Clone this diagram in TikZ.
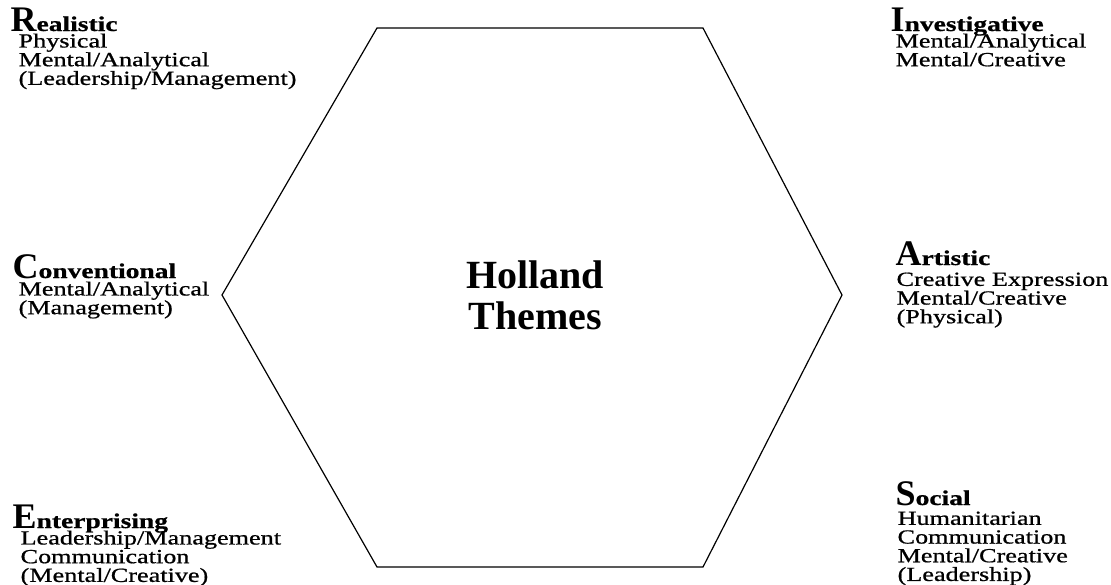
\documentclass[tikz,border=0pt]{standalone}
\usepackage{fontspec}
\setmainfont[FakeStretch=1.31, FakeBold=0.8]{Liberation Serif}
\newfontfamily\plainserif{Liberation Serif}
\usetikzlibrary{positioning}

\newcommand{\themeinit}[1]{{\plainserif\fontsize{36}{36}\selectfont\bfseries #1}}

\begin{document}
\begin{tikzpicture}[x=1pt, y=-1pt, line width=1.2pt,
    theme/.style={anchor=base west, inner sep=0pt, font=\fontsize{21}{21}\selectfont\bfseries},
    traits/.style={anchor=north west, align=left, inner sep=0pt, font=\fontsize{20}{18.7}\selectfont},
    title/.style={align=center, inner sep=0pt, font=\plainserif\fontsize{40}{41}\selectfont\bfseries}]

\useasboundingbox (0,0) rectangle (1111,584);

% hexagon
\coordinate (hexnw) at (377,28);
\coordinate (hexne) at (703,28);
\coordinate (hexe) at (842,295);
\coordinate (hexse) at (703,567);
\coordinate (hexsw) at (377,567);
\coordinate (hexw) at (222,295);
\draw (hexnw) -- (hexne) -- (hexe) -- (hexse) -- (hexsw) -- (hexw) -- cycle;

\node[title] (holland) at (535,295) {Holland\\Themes};

% left column
\node[theme] (realistic) at (10,31) {\themeinit{R}ealistic};
\node[traits, below right=2pt and 8pt of realistic.base west] (realistictraits) {Physical\\Mental/Analytical\\(Leadership/Management)};

\node[theme] (conventional) at (12,278) {\themeinit{C}onventional};
\node[traits, below right=3pt and 6pt of conventional.base west] (conventionaltraits) {Mental/Analytical\\(Management)};

\node[theme] (enterprising) at (12,528) {\themeinit{E}nterprising};
\node[traits, below right=2pt and 8pt of enterprising.base west] (enterprisingtraits) {Leadership/Management\\Communication\\(Mental/Creative)};

% right column
\node[theme] (investigative) at (890,31) {\themeinit{I}nvestigative};
\node[traits, below right=2pt and 5pt of investigative.base west] (investigativetraits) {Mental/Analytical\\Mental/Creative};

\node[theme] (artistic) at (895,265) {\themeinit{A}rtistic};
\node[traits, below right=7pt and 1pt of artistic.base west] (artistictraits) {Creative Expression\\Mental/Creative\\(Physical)};

\node[theme] (social) at (895,505) {\themeinit{S}ocial};
\node[traits, below right=6pt and 2pt of social.base west] (socialtraits) {Humanitarian\\Communication\\Mental/Creative\\(Leadership)};
\end{tikzpicture}
\end{document}
